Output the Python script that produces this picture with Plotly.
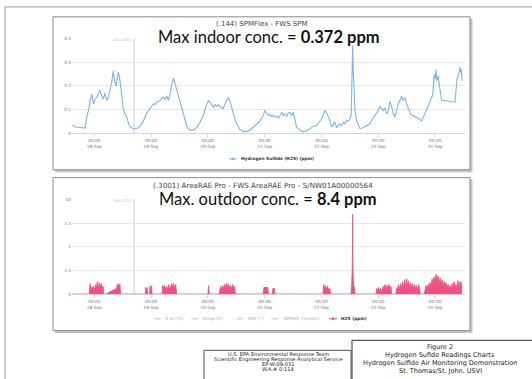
import pandas as pd
import plotly.graph_objects as go

# ---------------- data ----------------
base_time = "2017-09-18 00:00"
event_hour = 16.8              # vertical marker line (hours after base)
event_label = "1800-1970"

day_ticks = ["2017-09-18", "2017-09-19", "2017-09-20", "2017-09-21",
             "2017-09-22", "2017-09-23", "2017-09-24"]
day_labels = ["00:00<br>18-Sep", "00:00<br>19-Sep", "00:00<br>20-Sep", "00:00<br>21-Sep",
              "00:00<br>22-Sep", "00:00<br>23-Sep", "00:00<br>24-Sep"]

indoor_ticks = [0, 0.1, 0.2, 0.3, 0.4]
indoor_tick_labels = ["0", "0.1", "0.2", "0.3", "0.4"]
outdoor_ticks = [0, 2.5, 5, 7.5, 10]
outdoor_tick_labels = ["0", "2.5", "5", "7.5", "10"]

# indoor H2S (ppm), hours after 18-Sep 00:00
indoor_hours = [-9.2, -8.2, -6.1, -3.9, -3.2, -2.5, -1.8, -1.1, -0.4, 0.3,
                1.0, 1.7, 2.4, 3.1, 3.8, 4.5, 5.2, 5.9, 6.6, 7.3,
                8.0, 8.5, 9.2, 9.7, 10.1, 10.6, 11.1, 11.6, 12.3, 13.0,
                13.7, 14.4, 15.1, 16.5, 17.9, 19.3, 20.7, 22.1, 23.5, 24.2,
                24.9, 25.6, 26.3, 27.1, 27.8, 28.5, 29.2, 29.9, 30.6, 31.3,
                32.0, 32.7, 33.4, 33.8, 34.4, 34.8, 35.5, 36.2, 36.9, 37.6,
                38.3, 39.0, 39.7, 40.4, 41.8, 43.3, 44.7, 45.4, 46.1, 46.8,
                47.5, 48.2, 48.9, 49.6, 50.3, 51.0, 51.7, 52.4, 53.1, 53.8,
                54.5, 55.2, 55.9, 56.6, 57.1, 57.6, 58.1, 58.8, 59.5, 60.2,
                61.6, 63.0, 64.4, 65.8, 67.2, 68.6, 70.0, 70.7, 71.4, 72.1,
                72.8, 73.5, 74.3, 75.0, 75.7, 76.4, 77.1, 77.8, 78.5, 79.2,
                79.9, 80.6, 81.3, 82.0, 82.7, 83.4, 84.1, 84.8, 85.5, 86.9,
                88.3, 89.7, 91.2, 92.6, 94.0, 95.4, 96.1, 96.8, 97.5, 98.2,
                98.9, 99.6, 100.3, 101.0, 101.7, 102.4, 103.1, 103.8, 104.5, 105.3,
                106.0, 106.7, 107.4, 108.1, 108.6, 108.9, 109.2, 109.5, 109.8, 110.2,
                110.9, 111.6, 112.3, 113.7, 115.1, 116.5, 117.2, 117.9, 118.6, 119.3,
                120.0, 120.8, 121.5, 122.2, 122.9, 123.6, 124.3, 124.7, 125.0, 125.7,
                126.4, 127.1, 127.8, 128.5, 129.2, 129.9, 130.6, 131.3, 132.0, 132.7,
                133.4, 134.1, 134.8, 135.5, 136.2, 136.9, 137.6, 138.3, 139.0, 139.7,
                140.4, 141.1, 141.8, 142.5, 143.0, 143.2, 143.7, 144.1, 144.4, 144.8,
                145.4, 145.8, 146.4, 146.8, 152.5, 152.9, 153.3, 153.7, 154.2, 154.6,
                154.9, 155.2, 155.4]
indoor_h2s = [0.036, 0.026, 0.024, 0.022, 0.068, 0.096, 0.138, 0.165, 0.124, 0.144,
              0.151, 0.165, 0.182, 0.158, 0.144, 0.172, 0.138, 0.151, 0.179, 0.214,
              0.263, 0.221, 0.2, 0.235, 0.258, 0.242, 0.2, 0.138, 0.096, 0.082,
              0.068, 0.043, 0.026, 0.019, 0.019, 0.029, 0.051, 0.085, 0.103, 0.117,
              0.124, 0.121, 0.131, 0.135, 0.138, 0.149, 0.151, 0.143, 0.158, 0.138,
              0.165, 0.207, 0.232, 0.221, 0.2, 0.179, 0.158, 0.138, 0.11, 0.082,
              0.057, 0.033, 0.019, 0.013, 0.013, 0.024, 0.047, 0.061, 0.075, 0.103,
              0.124, 0.138, 0.131, 0.117, 0.11, 0.121, 0.113, 0.121, 0.113, 0.11,
              0.103, 0.124, 0.138, 0.151, 0.144, 0.124, 0.11, 0.075, 0.057, 0.04,
              0.015, 0.008, 0.008, 0.013, 0.024, 0.038, 0.051, 0.061, 0.075, 0.096,
              0.082, 0.075, 0.079, 0.071, 0.075, 0.068, 0.071, 0.065, 0.075, 0.089,
              0.075, 0.082, 0.071, 0.085, 0.089, 0.075, 0.089, 0.054, 0.026, 0.013,
              0.006, 0.01, 0.019, 0.029, 0.033, 0.051, 0.061, 0.079, 0.096, 0.085,
              0.068, 0.054, 0.026, 0.038, 0.047, 0.024, 0.033, 0.04, 0.032, 0.047,
              0.04, 0.054, 0.051, 0.061, 0.082, 0.207, 0.372, 0.249, 0.138, 0.089,
              0.051, 0.033, 0.019, 0.024, 0.032, 0.04, 0.054, 0.068, 0.075, 0.085,
              0.096, 0.113, 0.103, 0.096, 0.107, 0.082, 0.096, 0.124, 0.135, 0.11,
              0.082, 0.068, 0.096, 0.124, 0.138, 0.158, 0.138, 0.151, 0.124, 0.103,
              0.089, 0.075, 0.075, 0.068, 0.068, 0.061, 0.061, 0.05, 0.065, 0.079,
              0.096, 0.11, 0.131, 0.151, 0.158, 0.179, 0.249, 0.228, 0.269, 0.221,
              0.242, 0.207, 0.165, 0.14, 0.131, 0.193, 0.228, 0.242, 0.256, 0.279,
              0.256, 0.269, 0.221]

# outdoor H2S (ppm), hours after 18-Sep 00:00
outdoor_hours = [-9.2,
                 -2.1, -1.8, -1.4, -1.1, -0.7, -0.3, 0.1, 0.6, 0.8, 1.3, 1.7, 2.1, 2.5, 3.0, 3.4, 3.7, 3.9,
                 4.9, 9.4, 9.7, 10.0, 10.3, 10.6, 10.8, 11.1,
                 21.6, 21.7, 22.0, 22.3, 22.5, 23.4, 23.5, 23.8, 24.1, 24.4,
                 28.6, 28.9, 29.3, 29.7, 30.2, 30.6, 31.0, 31.4, 31.8, 32.3, 32.7, 33.1, 33.5, 34.0, 34.4, 34.8,
                 48.0, 48.3, 48.6,
                 52.7, 53.0, 53.4, 53.8, 54.2, 54.7, 55.1, 55.5, 55.9, 56.4, 56.8, 57.2, 57.6, 58.1, 58.5, 58.9, 59.3, 59.6,
                 71.4, 71.7, 72.4, 73.3, 73.6, 75.2, 75.5, 76.1, 76.4,
                 96.7, 96.9, 97.4, 97.8, 98.2, 98.6, 99.1, 99.5, 99.9,
                 108.5, 108.8, 109.1, 109.2, 109.3, 109.6, 109.9, 110.2,
                 119.1, 119.3, 119.8, 120.2, 120.6, 121.0, 121.5, 122.0, 122.4, 122.9, 123.3, 123.7, 124.1, 124.6, 125.0, 125.4, 125.7,
                 127.5, 127.8, 128.2, 128.6, 129.1, 129.5, 129.9, 130.3, 130.8, 131.2, 131.6, 132.0, 132.4, 132.8, 133.3, 133.7,
                 134.1, 134.5, 135.0, 135.4, 135.8, 136.2, 136.7, 137.1, 137.5, 137.8,
                 139.5, 139.8, 140.2, 140.7, 141.1, 141.5, 141.9, 142.4, 142.8, 143.2, 143.6, 144.1, 144.5, 144.9, 145.3, 145.8,
                 146.2, 146.6, 147.0, 147.4, 147.9, 148.3, 148.7, 149.1, 149.6, 150.0, 150.4, 150.8, 151.3, 151.7, 152.1, 152.5,
                 152.9, 153.3, 153.7, 154.2, 154.6, 155.0, 155.4]
outdoor_h2s = [0,
               0, 1.1, 0.3, 0.8, 0.5, 0.8, 0.4, 1.0, 0.6, 1.3, 0.5, 1.2, 0.7, 1.1, 0.4, 0.8, 0,
               0, 0.6, 1.0, 0.5, 1.1, 0.7, 1.0, 0,
               0, 0.7, 0.1, 0.7, 0, 0, 0.8, 0.3, 0.9, 0,
               0, 0.9, 0.6, 0.9, 0.5, 0.8, 0.4, 1.0, 0.5, 1.0, 1.1, 0.6, 1.1, 0.7, 1.0, 0,
               0, 0.9, 0,
               0, 0.6, 0.8, 0.5, 0.9, 0.6, 1.0, 0.6, 1.15, 0.7, 1.0, 0.6, 0.9, 0.5, 1.0, 0.7, 0.8, 0,
               0, 0.7, 0.7, 0.7, 0, 0, 0.6, 0.6, 0,
               0, 1.0, 0.6, 0.9, 0.5, 0.8, 0.4, 0.6, 0,
               0, 0.8, 3.3, 8.4, 3.0, 0.8, 0.8, 0,
               0, 0.6, 0.4, 0.7, 0.3, 0.6, 0.2, 0.8, 0.5, 1.0, 0.4, 0.9, 0.6, 1.0, 0.5, 0.8, 0,
               0, 0.7, 0.4, 1.0, 0.5, 1.1, 0.6, 1.3, 0.7, 1.5, 0.8, 1.6, 0.9, 1.4, 0.7, 1.2,
               0.6, 1.1, 0.5, 1.0, 0.6, 0.9, 0.4, 1.0, 0.6, 0,
               0, 0.6, 0.9, 0.5, 1.0, 0.7, 1.2, 0.8, 1.6, 1.0, 1.8, 1.3, 2.1, 1.5, 1.9, 1.2,
               1.7, 1.0, 1.5, 0.9, 1.3, 0.8, 1.2, 0.7, 1.0, 0.6, 0.9, 0.5, 1.1, 0.6, 1.3, 0.7,
               1.0, 0.6, 1.4, 0.7, 1.3, 0.8, 1.3]

hidden_series = ["R.H (%)", "Temp (F)", "DIR (°)", "SPEED (m/sec)"]
indoor_name = "Hydrogen Sulfide (H2S) (ppm)"
outdoor_name = "H2S (ppm)"

# ---------------- helpers ----------------
W, H = 532, 379
def PX(x):
    return x / W
def PY(y):
    return 1 - y / H

base = pd.Timestamp(base_time)
t_in = base + pd.to_timedelta(indoor_hours, unit="h")
t_out = base + pd.to_timedelta(outdoor_hours, unit="h")
t_event = base + pd.Timedelta(hours=event_hour)
x_range = [base - pd.Timedelta(hours=9.45), base + pd.Timedelta(hours=156.7)]

BLUE = "#7cb5ec"
PINK = "#f0527f"
GRID = "#e6e6e6"
TICKC = "#777777"
FONT = "DejaVu Sans"

fig = go.Figure()
fig.add_trace(go.Scatter(x=t_in, y=indoor_h2s, mode="lines", name=indoor_name,
                         line=dict(color=BLUE, width=1.1), xaxis="x", yaxis="y",
                         showlegend=False))
fig.add_trace(go.Scatter(x=t_out, y=outdoor_h2s, mode="lines", name=outdoor_name,
                         line=dict(color=PINK, width=0.9), fill="tozeroy",
                         fillcolor=PINK, xaxis="x2", yaxis="y2", showlegend=False))

axis_common = dict(type="date", range=x_range, tickvals=day_ticks, ticktext=day_labels,
                   tickfont=dict(family=FONT, size=4.3, color=TICKC),
                   showgrid=False, showline=True, linecolor="#ccd6eb", linewidth=1,
                   ticks="outside", ticklen=3, tickcolor="#ccd6eb", zeroline=False,
                   fixedrange=True)
yaxis_common = dict(showgrid=True, gridcolor=GRID, gridwidth=0.8, zeroline=False,
                    showline=False, ticks="", tickfont=dict(family=FONT, size=4.3, color=TICKC),
                    fixedrange=True)

fig.update_layout(
    width=W, height=H, autosize=False,
    margin=dict(l=0, r=0, t=0, b=0),
    paper_bgcolor="white", plot_bgcolor="rgba(0,0,0,0)",
    showlegend=False,
    xaxis=dict(domain=[PX(72), PX(465)], anchor="y", **axis_common),
    yaxis=dict(domain=[PY(133), PY(37)], anchor="x", range=[0, 0.4],
               tickvals=indoor_ticks, ticktext=indoor_tick_labels, **yaxis_common),
    xaxis2=dict(domain=[PX(72), PX(465)], anchor="y2", **axis_common),
    yaxis2=dict(domain=[PY(296), PY(200)], anchor="x2", range=[0, 10],
                tickvals=outdoor_ticks, ticktext=outdoor_tick_labels, **yaxis_common),
)

shapes = []
# page border
shapes.append(dict(type="rect", xref="paper", yref="paper", x0=PX(5), x1=PX(560),
                   y0=PY(5), y1=PY(400), line=dict(color="#9a9a9a", width=1),
                   fillcolor="white", layer="below"))
# chart boxes with shadow
for (x0, y0, x1, y1) in [(53, 15, 470, 170), (53, 178, 470, 333)]:
    shapes.append(dict(type="rect", xref="paper", yref="paper", x0=PX(x0 + 2), x1=PX(x1 + 2.5),
                       y0=PY(y0 + 2), y1=PY(y1 + 2.5), line=dict(width=0),
                       fillcolor="#c4c4c4", layer="below"))
    shapes.append(dict(type="rect", xref="paper", yref="paper", x0=PX(x0), x1=PX(x1),
                       y0=PY(y0), y1=PY(y1), line=dict(color="#8a8a8a", width=1),
                       fillcolor="white", layer="below"))
# caption boxes
shapes.append(dict(type="rect", xref="paper", yref="paper", x0=PX(204), x1=PX(351),
                   y0=PY(353), y1=PY(400), line=dict(color="#555555", width=1),
                   fillcolor="white", layer="below"))
shapes.append(dict(type="rect", xref="paper", yref="paper", x0=PX(352), x1=PX(560),
                   y0=PY(343), y1=PY(400), line=dict(color="#555555", width=1.2),
                   fillcolor="white", layer="below"))
# event marker lines
for xr, yr in [("x", "y domain"), ("x2", "y2 domain")]:
    shapes.append(dict(type="line", xref=xr, yref=yr, x0=t_event, x1=t_event, y0=0, y1=1,
                       line=dict(color="#d0d0d0", width=1), layer="below"))

# legend symbols (line + dot)
def legend_symbol(cx, cy, color):
    shapes.append(dict(type="line", xref="paper", yref="paper", x0=PX(cx - 4), x1=PX(cx + 4),
                       y0=PY(cy), y1=PY(cy), line=dict(color=color, width=1)))
    shapes.append(dict(type="circle", xref="paper", yref="paper", x0=PX(cx - 1.3), x1=PX(cx + 1.3),
                       y0=PY(cy + 1.3), y1=PY(cy - 1.3), line=dict(width=0), fillcolor=color))

annotations = []
def text(x, y, s, size, color="#333333", family=FONT, xanchor="center"):
    annotations.append(dict(x=PX(x), y=PY(y), xref="paper", yref="paper", text=s,
                            showarrow=False, xanchor=xanchor, yanchor="middle",
                            font=dict(family=family, size=size, color=color)))

# chart titles
text(262, 22, "(.144) SPMFlex - FWS SPM", 7, "#444444")
text(263, 185.5, "(.3001) AreaRAE Pro - FWS AreaRAE Pro - S/NW01A00000564", 7.2, "#444444")
# big call-outs
text(269, 35.5, "Max indoor conc. = <b>0.372 ppm</b>", 16.5, "#111111", "Lato")
text(268, 200, "Max. outdoor conc. = <b>8.4 ppm</b>", 16.5, "#111111", "Lato")
# event labels
text(122, 38.5, event_label, 3.3, "#b8b8b8")
text(122, 201.5, event_label, 3.3, "#b8b8b8")

# legends
legend_symbol(233, 159, BLUE)
text(239, 159, "<b>" + indoor_name + "</b>", 4.3, "#333333", xanchor="left")
hidden_sym_x = [158, 195, 240, 275]
hidden_txt_x = [163, 200, 246, 282]
for name, sx, tx in zip(hidden_series, hidden_sym_x, hidden_txt_x):
    legend_symbol(sx, 321, "#d6d6d6")
    text(tx, 321, "<b>" + name + "</b>", 4.3, "#cccccc", xanchor="left")
legend_symbol(333, 321, PINK)
text(339, 321, "<b>" + outdoor_name + "</b>", 4.3, "#333333", xanchor="left")

# caption boxes text
left_lines = ["U.S. EPA Environmental Response Team",
              "Scientific Engineering Response Analytical Service",
              "EP-W-09-031", "W.A.# 0-114"]
for i, s in enumerate(left_lines):
    text(278, 357.5 + i * 4.7, s, 5.1, "#222222")
right_lines = ["Figure 2", "Hydrogen Sufide Readings Charts",
               "Hydrogen Sulfide Air Monitoring Demonstration", "St. Thomas/St. John, USVI"]
for i, s in enumerate(right_lines):
    text(440, 350 + i * 8, s, 6.5, "#222222")

fig.update_layout(shapes=shapes, annotations=annotations)
fig.write_html("out.html",
               config={"displayModeBar": False},
               post_script="document.body.style.margin='0';document.body.style.overflow='hidden';")
